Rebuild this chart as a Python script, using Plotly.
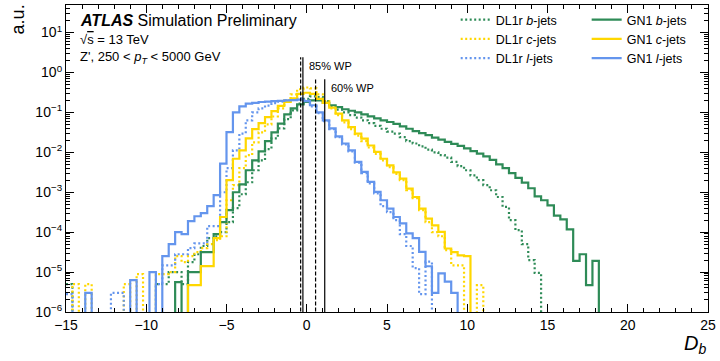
import numpy as np
import plotly.graph_objects as go

# ---------------- data ----------------
# D_b histogram binning
bin_low = -15.0
bin_width = 0.4
n_bins = 100

# normalised bin contents (a.u.), bins 0..99, 0 = empty bin
gn1_b = [
    0, 0, 0, 0, 0, 0, 0, 0, 0, 0,
    0, 0, 0, 0, 0, 0, 0, 5.6e-6, 0, 1.0e-5,
    1.0e-5, 3.16e-5, 3.16e-5, 8.9e-5, 1.78e-4, 3.55e-4, 1.0e-3, 1.58e-3, 3.55e-3, 6.3e-3,
    1.05e-2, 1.91e-2, 3.16e-2, 5.25e-2, 8.9e-2, 0.126, 0.158, 0.182, 0.200, 0.200,
    0.174, 0.151, 0.135, 0.120, 0.110, 0.100, 0.0891, 0.0794, 0.0708, 0.0631,
    0.0575, 0.0513, 0.0447, 0.0389, 0.0339, 0.0302, 0.0269, 0.0234, 0.0209, 0.0182,
    0.0162, 0.0145, 0.0126, 0.0107, 9.3e-3, 7.9e-3, 6.5e-3, 5.0e-3, 4.0e-3, 3.0e-3,
    2.3e-3, 1.74e-3, 1.26e-3, 7.9e-4, 6.3e-4, 4.7e-4, 2.6e-4, 2.1e-4, 1.17e-4, 1.9e-5,
    2.8e-5, 4.7e-6, 1.9e-5, 0, 0, 0, 0, 0, 0, 0,
    0, 0, 0, 0, 0, 0, 0, 0, 0, 0,
]
dl1r_b = [
    5.0e-6, 0, 0, 0, 0, 0, 0, 0, 0, 0,
    0, 0, 0, 0, 5.0e-6, 5.0e-6, 1.0e-5, 1.0e-5, 5.0e-6, 1.78e-5,
    2.8e-5, 4.5e-5, 7.1e-5, 7.9e-5, 1.0e-4, 1.78e-4, 4.0e-4, 8.9e-4, 1.78e-3, 3.55e-3,
    6.3e-3, 1.2e-2, 2.24e-2, 3.98e-2, 6.8e-2, 0.112, 0.166, 0.219, 0.251, 0.240,
    0.191, 0.138, 0.117, 0.100, 0.0851, 0.0741, 0.0631, 0.0537, 0.0457, 0.0389,
    0.0331, 0.0295, 0.0240, 0.0191, 0.0166, 0.0141, 0.0117, 0.0100, 8.5e-3, 7.4e-3,
    5.75e-3, 4.5e-3, 3.55e-3, 2.63e-3, 2.0e-3, 1.51e-3, 1.12e-3, 7.6e-4, 4.3e-4, 2.0e-4,
    1.12e-4, 5.0e-5, 2.0e-5, 9.5e-6, 0, 0, 0, 0, 0, 0,
    0, 0, 0, 0, 0, 0, 0, 0, 0, 0,
    0, 0, 0, 0, 0, 0, 0, 0, 0, 0,
]
gn1_c = [
    0, 0, 0, 0, 0, 0, 0, 0, 0, 0,
    0, 0, 0, 0, 0, 0, 0, 0, 0, 4.7e-6,
    4.7e-6, 1.41e-5, 1.41e-5, 7.1e-5, 2.4e-4, 2.0e-3, 6.9e-3, 1.12e-2, 2.24e-2, 3.8e-2,
    5.4e-2, 7.6e-2, 0.107, 0.145, 0.182, 0.224, 0.29, 0.31, 0.29, 0.219,
    0.174, 0.132, 0.0933, 0.063, 0.0427, 0.0295, 0.0219, 0.0148, 0.0102, 6.9e-3,
    4.7e-3, 3.16e-3, 2.19e-3, 1.23e-3, 7.6e-4, 3.9e-4, 2.19e-4, 1.48e-4, 1.02e-4, 3.9e-5,
    3.16e-5, 2.63e-5, 2.5e-5, 0, 0, 0, 0, 0, 0, 0,
    0, 0, 0, 0, 0, 0, 0, 0, 0, 0,
    0, 0, 0, 0, 0, 0, 0, 0, 0, 0,
    0, 0, 0, 0, 0, 0, 0, 0, 0, 0,
]
dl1r_c = [
    0, 5.0e-6, 0, 5.0e-6, 0, 0, 0, 0, 0, 5.0e-6,
    0, 8.9e-6, 0, 0, 8.9e-6, 8.9e-6, 1.0e-5, 2.5e-5, 1.78e-5, 2.5e-5,
    3.16e-5, 4.0e-5, 5.0e-5, 6.3e-5, 7.9e-5, 6.3e-4, 1.51e-3, 4.0e-3, 8.5e-3, 1.78e-2,
    3.16e-2, 5.0e-2, 7.9e-2, 0.126, 0.200, 0.282, 0.38, 0.42, 0.40, 0.282,
    0.191, 0.126, 0.0851, 0.0562, 0.038, 0.0263, 0.0191, 0.0132, 9.1e-3, 6.3e-3,
    4.27e-3, 2.88e-3, 2.0e-3, 1.12e-3, 7.1e-4, 3.55e-4, 1.78e-4, 1.0e-4, 7.9e-5, 3.55e-5,
    1.48e-5, 1.48e-5, 0, 0, 4.7e-6, 0, 0, 0, 0, 0,
    0, 0, 0, 0, 0, 0, 0, 0, 0, 0,
    0, 0, 0, 0, 0, 0, 0, 0, 0, 0,
    0, 0, 0, 0, 0, 0, 0, 0, 0, 0,
]
gn1_l = [
    0, 0, 0, 3.0e-6, 0, 0, 0, 0, 0, 0,
    6.3e-6, 0, 0, 1.0e-5, 0, 2.5e-5, 5.0e-5, 1.0e-4, 8.9e-5, 1.9e-4,
    2.5e-4, 3.0e-4, 4.5e-4, 8.5e-4, 5.2e-3, 3.2e-2, 0.10, 0.141, 0.166, 0.174,
    0.182, 0.186, 0.191, 0.195, 0.200, 0.204, 0.209, 0.191, 0.151, 0.100,
    0.063, 0.040, 0.025, 0.0166, 0.0112, 5.75e-3, 3.24e-3, 1.82e-3, 1.02e-3, 6.3e-4,
    3.9e-4, 2.4e-4, 1.66e-4, 9.3e-5, 7.1e-5, 3.2e-5, 1.4e-5, 3.0e-6, 9.3e-6, 5.75e-6,
    3.0e-6, 0, 0, 0, 0, 0, 0, 0, 0, 0,
    0, 0, 0, 0, 0, 0, 0, 0, 0, 0,
    0, 0, 0, 0, 0, 0, 0, 0, 0, 0,
    0, 0, 0, 0, 0, 0, 0, 0, 0, 0,
]
dl1r_l = [
    2.8e-6, 0, 0, 0, 0, 0, 0, 3.0e-6, 3.0e-6, 0,
    0, 0, 0, 0, 5.0e-6, 1.48e-5, 1.48e-5, 2.8e-5, 2.8e-5, 4.0e-5,
    5.25e-5, 5.25e-5, 1.41e-4, 1.41e-4, 1.0e-3, 4.0e-3, 1.12e-2, 2.95e-2, 6.3e-2, 0.10,
    0.126, 0.148, 0.170, 0.186, 0.200, 0.214, 0.224, 0.200, 0.141, 0.0955,
    0.060, 0.038, 0.024, 0.0158, 0.0105, 5.5e-3, 3.0e-3, 1.66e-3, 9.3e-4, 4.5e-4,
    3.16e-4, 2.0e-4, 8.9e-5, 4.5e-5, 1.26e-5, 2.8e-6, 1.82e-5, 0, 0, 0,
    0, 0, 0, 0, 0, 0, 0, 0, 0, 0,
    0, 0, 0, 0, 0, 0, 0, 0, 0, 0,
    0, 0, 0, 0, 0, 0, 0, 0, 0, 0,
    0, 0, 0, 0, 0, 0, 0, 0, 0, 0,
]

# working-point cut values
wp_labels = ["85% WP", "60% WP"]
wp_dl1r = [-0.38, 0.55]
wp_gn1 = [-0.24, 1.12]
wp_line_top = [2.4, 0.68]

x_ticks = [-15, -10, -5, 0, 5, 10, 15, 20, 25]
y_ticks = [1e-6, 1e-5, 1e-4, 1e-3, 1e-2, 1e-1, 1e0, 1e1]
y_ticktext = ["10<sup>−6</sup>", "10<sup>−5</sup>", "10<sup>−4</sup>", "10<sup>−3</sup>",
              "10<sup>−2</sup>", "10<sup>−1</sup>", "10<sup>0</sup>", "10<sup>1</sup>"]

# ---------------- figure ----------------
FONT = "Liberation Sans, Arial, Helvetica, sans-serif"
GREEN, YELLOW, BLUE = "#2E8B57", "#FFD700", "#6495ED"

edges = bin_low + bin_width * np.arange(n_bins + 1)


def step_xy(h):
    h = np.asarray(h, dtype=float)
    y = np.where(h > 0, h, 1e-12)  # empty bins drop below the log axis like a step histogram
    return edges, np.append(y, y[-1])


fig = go.Figure()

series = [
    ("DL1r <i>b</i>-jets", dl1r_b, GREEN, "2px,2.5px", "legend"),
    ("DL1r <i>c</i>-jets", dl1r_c, YELLOW, "2px,2.5px", "legend"),
    ("DL1r <i>l</i>-jets", dl1r_l, BLUE, "2px,2.5px", "legend"),
    ("GN1 <i>b</i>-jets", gn1_b, GREEN, "solid", "legend2"),
    ("GN1 <i>c</i>-jets", gn1_c, YELLOW, "solid", "legend2"),
    ("GN1 <i>l</i>-jets", gn1_l, BLUE, "solid", "legend2"),
]
for name, vals, col, dash, leg in series:
    x, y = step_xy(vals)
    fig.add_trace(go.Scatter(x=x, y=y, mode="lines", line_shape="hv", name=name,
                             line=dict(color=col, width=2.2, dash=dash), legend=leg))

for i in range(len(wp_labels)):
    fig.add_trace(go.Scatter(x=[wp_dl1r[i], wp_dl1r[i]], y=[1e-12, wp_line_top[i]], mode="lines",
                             line=dict(color="black", width=1.2, dash="4px,2px"), showlegend=False))
    fig.add_trace(go.Scatter(x=[wp_gn1[i], wp_gn1[i]], y=[1e-12, wp_line_top[i]], mode="lines",
                             line=dict(color="black", width=1.2), showlegend=False))

annotations = [
    dict(text="<b><i>ATLAS</i></b> Simulation Preliminary", x=0.0186, y=0.948, xref="paper", yref="paper",
         xanchor="left", yanchor="middle", showarrow=False, font=dict(size=16, family=FONT, color="black")),
    dict(text="√<span style='text-decoration:overline'>s</span> = 13 TeV", x=0.0186, y=0.888,
         xref="paper", yref="paper", xanchor="left", yanchor="middle", showarrow=False,
         font=dict(size=13, family=FONT, color="black")),
    dict(text="Z', 250 &lt; <i>p</i><sub><i>T</i></sub> &lt; 5000 GeV", x=0.0186, y=0.83,
         xref="paper", yref="paper", xanchor="left", yanchor="middle", showarrow=False,
         font=dict(size=13, family=FONT, color="black")),
    dict(text="a.u.", x=-0.075, y=1.008, xref="paper", yref="paper", xanchor="center", yanchor="top",
         textangle=-90, showarrow=False, font=dict(size=18, family=FONT, color="black")),
    dict(text="<i>D</i><sub><i>b</i></sub>", x=1.0, y=-0.105, xref="paper", yref="paper",
         xanchor="right", yanchor="middle", showarrow=False, font=dict(size=20, family=FONT, color="black")),
    dict(text=wp_labels[0], x=0.02, y=0.8, xref="x", yref="paper", xanchor="left", yanchor="middle",
         showarrow=False, font=dict(size=11, family=FONT, color="black")),
    dict(text=wp_labels[1], x=1.38, y=0.73, xref="x", yref="paper", xanchor="left", yanchor="middle",
         showarrow=False, font=dict(size=11, family=FONT, color="black")),
]

legend_common = dict(yanchor="top", xanchor="left", bgcolor="rgba(0,0,0,0)", borderwidth=0,
                     font=dict(size=12.5, family=FONT, color="black"), itemwidth=30, tracegroupgap=0)

fig.update_layout(
    width=720, height=361,
    margin=dict(l=66, r=9, t=4, b=49),
    plot_bgcolor="white", paper_bgcolor="white",
    font=dict(family=FONT, color="black"),
    annotations=annotations,
    legend=dict(x=0.607, y=1.0, **legend_common),
    legend2=dict(x=0.811, y=1.0, **legend_common),
    xaxis=dict(range=[-15, 25], tickvals=x_ticks, ticks="inside", ticklen=8, tickwidth=1,
               tickcolor="black", mirror="ticks", showline=True, linecolor="black", linewidth=1.2,
               showgrid=False, zeroline=False, tickfont=dict(size=14, family=FONT, color="black"),
               minor=dict(ticks="inside", ticklen=4, dtick=1, tickcolor="black", showgrid=False)),
    yaxis=dict(type="log", range=[-6, 1.69], tickvals=y_ticks, ticktext=y_ticktext, ticks="inside",
               ticklen=8, tickwidth=1, tickcolor="black", mirror="ticks", showline=True,
               linecolor="black", linewidth=1.2, showgrid=False, zeroline=False,
               tickfont=dict(size=14, family=FONT, color="black"),
               minor=dict(ticks="inside", ticklen=4, dtick="D1", tickcolor="black", showgrid=False)),
)

fig.write_html("out.html", config={"displayModeBar": False},
               post_script="document.body.style.margin='0px';")
